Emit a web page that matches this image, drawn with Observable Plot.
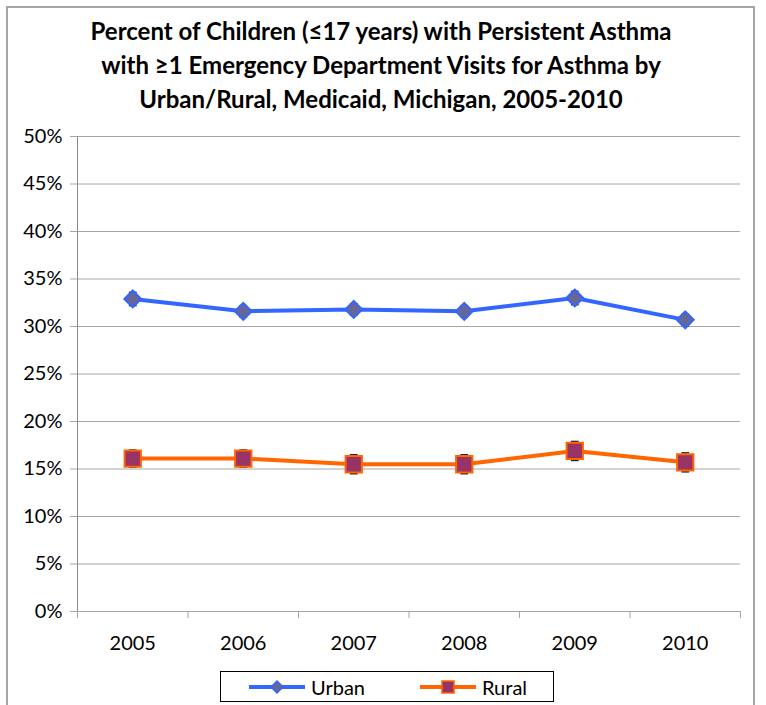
<!DOCTYPE html>
<html><head><meta charset="utf-8">
<script src="https://cdn.jsdelivr.net/npm/d3@7"></script>
<script src="https://cdn.jsdelivr.net/npm/@observablehq/plot@0.6"></script>
<style>
body{margin:0;background:#fff;font-family:Lato,"Open Sans",sans-serif;}
#wrap{position:relative;width:766px;height:705px;overflow:hidden;background:#fff;}
#chart{position:absolute;left:0;top:0;}
#frame{position:absolute;left:6px;top:6px;width:749px;height:740px;border:2px solid #a6a6a6;box-sizing:border-box;pointer-events:none;}
#title{position:absolute;left:0;top:14px;width:762px;text-align:center;font-weight:bold;font-size:24px;line-height:34px;color:#000;}
#legend{position:absolute;left:220px;top:671px;width:334px;height:31px;border:1px solid #000;box-sizing:border-box;font-size:20px;color:#000;}
.li{position:absolute;top:3px;display:flex;align-items:center;gap:6px;}
</style></head>
<body>
<div id="wrap">
  <div id="chart"></div>
  <div id="title">Percent of Children (≤17 years) with Persistent Asthma<br>with ≥1 Emergency Department Visits for Asthma by<br>Urban/Rural, Medicaid, Michigan, 2005-2010</div>
  <div id="legend">
    <div class="li" style="left:28px"><svg width="56" height="22"><line x1="0" y1="11" x2="56" y2="11" stroke="#3366ff" stroke-width="4"/><path d="M28,5 L34,11 L28,17 L22,11 Z" fill="#666699" stroke="#3366ff" stroke-width="1.5"/></svg><span>Urban</span></div>
    <div class="li" style="left:199px"><svg width="56" height="22"><line x1="0" y1="11" x2="56" y2="11" stroke="#ff6600" stroke-width="4"/><rect x="22" y="5" width="12" height="12" fill="#993366" stroke="#ff6600" stroke-width="1.5"/></svg><span>Rural</span></div>
  </div>
  <div id="frame"></div>
</div>
<script>
const years = [2005, 2006, 2007, 2008, 2009, 2010];
const urban = [32.9, 31.6, 31.8, 31.6, 33.0, 30.7];
const urbanErr = [0.7, 0.6, 0.6, 0.6, 0.7, 0.6];
const rural = [16.1, 16.1, 15.5, 15.5, 16.9, 15.7];
const ruralErr = [0.9, 0.9, 1.0, 1.0, 1.0, 1.0];
const yTicks = [0, 5, 10, 15, 20, 25, 30, 35, 40, 45, 50];
const xBounds = [2004.5, 2005.5, 2006.5, 2007.5, 2008.5, 2009.5, 2010.5];

const urbanData = years.map((year, i) => ({year, value: urban[i], lo: urban[i] - urbanErr[i], hi: urban[i] + urbanErr[i]}));
const ruralData = years.map((year, i) => ({year, value: rural[i], lo: rural[i] - ruralErr[i], hi: rural[i] + ruralErr[i]}));

const capW = 0.035;
const errMarks = (data) => [
  Plot.ruleX(data, {x: "year", y1: "lo", y2: "hi", stroke: "#222", strokeWidth: 1}),
  Plot.link(data, {x1: d => d.year - capW, x2: d => d.year + capW, y1: "lo", y2: "lo", stroke: "#222", strokeWidth: 1.5}),
  Plot.link(data, {x1: d => d.year - capW, x2: d => d.year + capW, y1: "hi", y2: "hi", stroke: "#222", strokeWidth: 1.5})
];

const chart = Plot.plot({
  width: 766,
  height: 705,
  marginTop: 136,
  marginBottom: 94,
  marginLeft: 77,
  marginRight: 26,
  style: {background: "transparent", fontFamily: "Lato, 'Open Sans', sans-serif", color: "#000"},
  x: {type: "linear", domain: [2004.5, 2010.5], axis: null, label: null},
  y: {domain: [0, 50], axis: null, label: null},
  marks: [
    Plot.gridY(yTicks, {stroke: "#a6a6a6", strokeOpacity: 1, strokeWidth: 1}),
    Plot.axisY({ticks: yTicks, tickSize: 7, tickPadding: 8, tickFormat: d => d + "%", fontSize: 20, stroke: "#a6a6a6", strokeOpacity: 1, fill: "#000", label: null}),
    Plot.ruleX([2004.5], {stroke: "#8c8c8c", strokeWidth: 1}),
    Plot.axisX({ticks: xBounds, tickSize: 7, tickFormat: () => "", stroke: "#a6a6a6", strokeOpacity: 1, label: null}),
    Plot.axisX({ticks: years, tickSize: 0, tickPadding: 24, tickFormat: d => String(d), fontSize: 20, fill: "#000", label: null}),
    ...errMarks(urbanData),
    ...errMarks(ruralData),
    Plot.line(urbanData, {x: "year", y: "value", stroke: "#3366ff", strokeWidth: 4}),
    Plot.line(ruralData, {x: "year", y: "value", stroke: "#ff6600", strokeWidth: 4}),
    Plot.dot(urbanData, {x: "year", y: "value", symbol: "diamond2", r: 7.6, fill: "#666699", stroke: "#3366ff", strokeWidth: 2}),
    Plot.dot(ruralData, {x: "year", y: "value", symbol: "square", r: 9.2, fill: "#993366", stroke: "#ff6600", strokeWidth: 2})
  ]
});
document.getElementById("chart").appendChild(chart);
</script>
</body></html>
